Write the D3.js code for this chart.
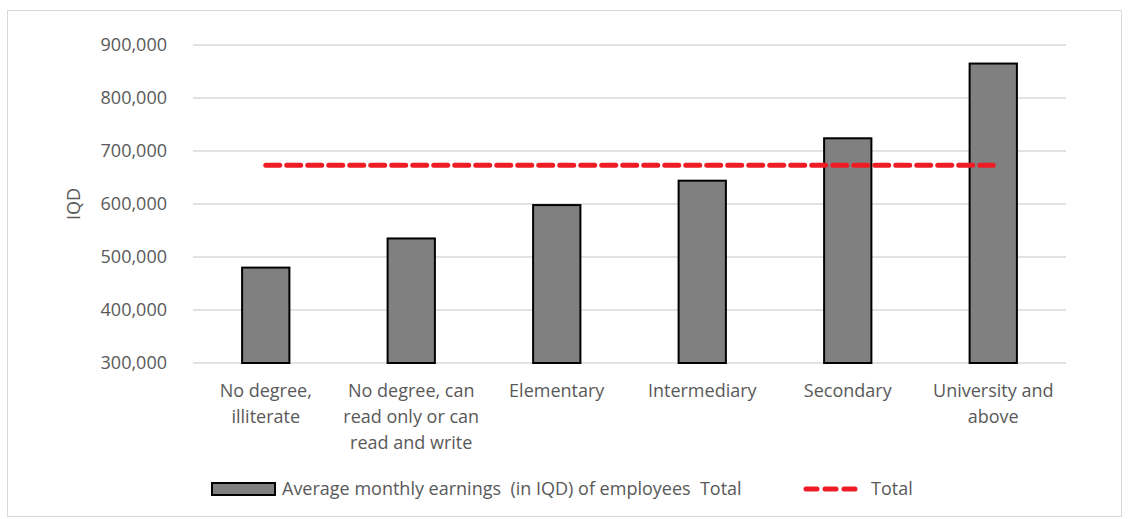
<!DOCTYPE html>
<meta charset="utf-8">
<style>
body { margin: 0; background: #fff; }
text { font-family: "Open Sans", sans-serif; fill: #595959; white-space: pre; }
</style>
<body>
<script src="https://d3js.org/d3.v7.min.js"></script>
<script>
var categories = [
  ["No degree,", "illiterate"],
  ["No degree, can", "read only or can", "read and write"],
  ["Elementary"],
  ["Intermediary"],
  ["Secondary"],
  ["University and", "above"]
];
var earnings = [480000, 535000, 598000, 644000, 724000, 865000];
var total = [673000, 673000, 673000, 673000, 673000, 673000];
var yTicks = [300000, 400000, 500000, 600000, 700000, 800000, 900000];

var width = 1129, height = 519;
var plotLeft = 193, plotRight = 1066, plotTop = 45, plotBottom = 363;

var svg = d3.select("body").append("svg")
    .attr("width", width)
    .attr("height", height);

// chart border
svg.append("rect")
    .attr("x", 7.5).attr("y", 10.5)
    .attr("width", 1114).attr("height", 506)
    .attr("fill", "none").attr("stroke", "#d9d9d9");

var x = d3.scaleBand()
    .domain(d3.range(categories.length))
    .range([plotLeft, plotRight])
    .paddingInner(0.675).paddingOuter(0.3375);

var y = d3.scaleLinear()
    .domain([300000, 900000])
    .range([plotBottom, plotTop]);

// gridlines
svg.append("g").selectAll("line")
    .data(yTicks)
    .enter().append("line")
    .attr("x1", plotLeft).attr("x2", plotRight)
    .attr("y1", d => y(d)).attr("y2", d => y(d))
    .attr("stroke", "#d9d9d9").attr("stroke-width", 1.3);

// y labels
svg.append("g").selectAll("text")
    .data(yTicks)
    .enter().append("text")
    .attr("x", 167).attr("y", d => y(d))
    .attr("dy", "0.35em")
    .attr("text-anchor", "end")
    .style("font-size", "18px")
    .text(d => d3.format(",")(d));

svg.append("text")
    .attr("transform", "translate(80,204) rotate(-90)")
    .attr("text-anchor", "middle")
    .style("font-size", "18px")
    .text("IQD");

// bars
svg.append("g").selectAll("rect")
    .data(earnings)
    .enter().append("rect")
    .attr("x", (d, i) => x(i))
    .attr("y", d => y(d))
    .attr("width", x.bandwidth())
    .attr("height", d => y(300000) - y(d))
    .attr("fill", "#808080")
    .attr("stroke", "#000").attr("stroke-width", 2);

// total line
var line = d3.line()
    .x((d, i) => x(i) + x.bandwidth() / 2)
    .y(d => y(d));

svg.append("path")
    .datum(total)
    .attr("d", line)
    .attr("fill", "none")
    .attr("stroke", "#ee1c25")
    .attr("stroke-width", 5)
    .attr("stroke-dasharray", "14 7")
    .attr("stroke-linecap", "round");

// category labels
var cat = svg.append("g").selectAll("text")
    .data(categories)
    .enter().append("text")
    .attr("text-anchor", "middle")
    .attr("x", (d, i) => x(i) + x.bandwidth() / 2)
    .attr("y", 397)
    .style("font-size", "18px");
cat.selectAll("tspan")
    .data(d => d)
    .enter().append("tspan")
    .attr("x", function() { return this.parentNode.getAttribute("x"); })
    .attr("dy", (d, i) => i ? 26 : 0)
    .text(d => d);

// legend
var lg = svg.append("g");
lg.append("rect")
    .attr("x", 212).attr("y", 483)
    .attr("width", 63).attr("height", 12)
    .attr("fill", "#808080").attr("stroke", "#000").attr("stroke-width", 2);
lg.append("text")
    .attr("x", 282).attr("y", 489).attr("dy", "0.35em")
    .style("font-size", "18px")
    .text("Average monthly earnings  (in IQD) of employees  Total");
lg.append("line")
    .attr("x1", 806).attr("x2", 858)
    .attr("y1", 489).attr("y2", 489)
    .attr("stroke", "#ee1c25").attr("stroke-width", 5)
    .attr("stroke-dasharray", "11 8").attr("stroke-linecap", "round");
lg.append("text")
    .attr("x", 871).attr("y", 489).attr("dy", "0.35em")
    .style("font-size", "18px")
    .text("Total");
</script>
</body>
